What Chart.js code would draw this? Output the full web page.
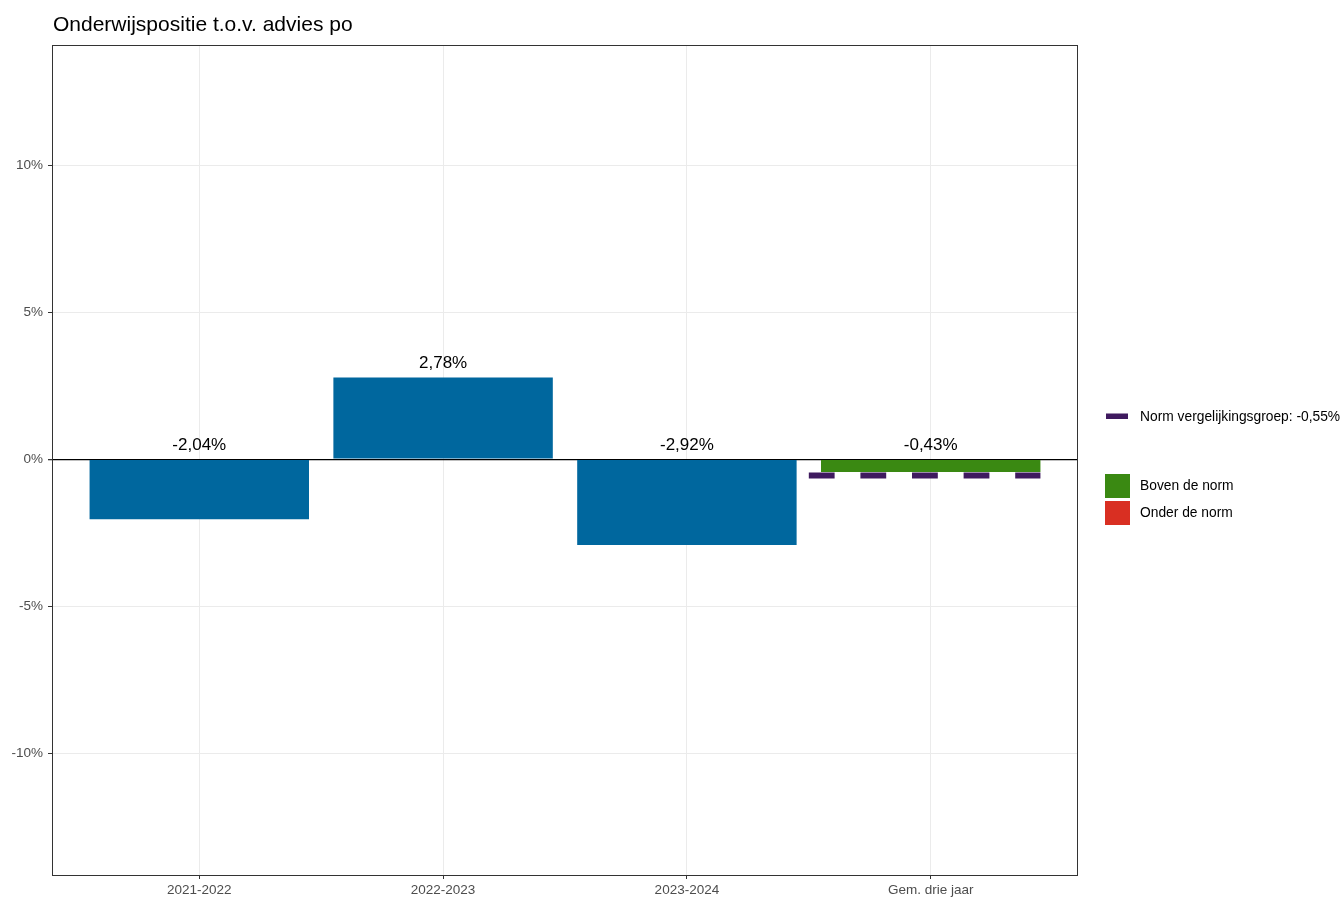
<!DOCTYPE html>
<html>
<head>
<meta charset="utf-8">
<title>Onderwijspositie t.o.v. advies po</title>
<script src="https://cdn.jsdelivr.net/npm/chart.js@4/dist/chart.umd.min.js"></script>
<style>
  html, body { margin: 0; padding: 0; background: #fff; }
  #wrap { width: 1344px; height: 897px; }
</style>
</head>
<body>
<div id="wrap"><canvas id="chart" width="1344" height="897"></canvas></div>
<script>
const titleText = 'Onderwijspositie t.o.v. advies po';
const categories = ['2021-2022', '2022-2023', '2023-2024', 'Gem. drie jaar'];
const values = [-2.04, 2.78, -2.92, -0.43];
const normValue = -0.55;
const normLabel = 'Norm vergelijkingsgroep: -0,55%';
const yTicks = [-10, -5, 0, 5, 10];
const legendLabels = ['Boven de norm', 'Onder de norm'];

const FONT = '"Liberation Sans", Arial, sans-serif';
const BLUE = '#00679E';
const GREEN = '#3A8912';
const RED = '#D92F22';
const PURPLE = '#3F1A5F';

const fmt = (v) => `${v.toFixed(2).replace('.', ',')}%`;

// last bar is the average: coloured by comparison with the norm
const barColors = values.map((v, i) => {
  if (i < values.length - 1) return BLUE;
  return v >= normValue ? GREEN : RED;
});

const last = values.length - 1;
const barData = values.map((v, i) => ({ x: i, y: v }));
const normData = [{ x: last - 0.5, y: normValue }, { x: last + 0.45, y: normValue }];

const extrasPlugin = {
  id: 'extras',
  afterDatasetsDraw(chart) {
    const { ctx, chartArea, scales } = chart;
    const { x, y } = scales;
    ctx.save();

    // value labels
    ctx.fillStyle = '#000';
    ctx.font = `17px ${FONT}`;
    ctx.textAlign = 'center';
    ctx.textBaseline = 'middle';
    values.forEach((v, i) => {
      ctx.fillText(fmt(v), x.getPixelForValue(i), y.getPixelForValue(Math.max(v, 0)) - 14);
    });

    // panel border
    ctx.strokeStyle = '#333333';
    ctx.lineWidth = 1;
    ctx.strokeRect(chartArea.left - 0.5, chartArea.top + 0.5,
      chartArea.right - chartArea.left + 1, chartArea.bottom - chartArea.top);

    // title
    ctx.fillStyle = '#000';
    ctx.font = `21px ${FONT}`;
    ctx.textAlign = 'left';
    ctx.fillText(titleText, chartArea.left, 25);

    // legend
    const lx = chartArea.right + 28;
    ctx.font = `13.8px ${FONT}`;
    ctx.fillStyle = PURPLE;
    ctx.fillRect(lx + 1, 413.5, 22, 5.5);
    ctx.fillStyle = '#000';
    ctx.fillText(normLabel, lx + 35, 417);

    [GREEN, RED].forEach((c, i) => {
      const top = 474 + i * 27;
      ctx.fillStyle = c;
      ctx.fillRect(lx, top, 25, 24);
      ctx.fillStyle = '#000';
      ctx.fillText(legendLabels[i], lx + 35, top + 12.5);
    });
    ctx.restore();
  },
};

new Chart(document.getElementById('chart'), {
  type: 'bar',
  data: {
    datasets: [
      {
        type: 'line',
        data: normData,
        borderColor: PURPLE,
        borderWidth: 6,
        borderDash: [25.8, 25.8],
        borderCapStyle: 'butt',
        pointRadius: 0,
        order: 0,
      },
      {
        type: 'bar',
        data: barData,
        backgroundColor: barColors,
        barPercentage: 0.9,
        categoryPercentage: 1.0,
        order: 1,
      },
    ],
  },
  options: {
    responsive: false,
    devicePixelRatio: 1,
    animation: false,
    layout: { padding: { top: 45, right: 267, left: 0, bottom: 0 } },
    plugins: {
      legend: { display: false },
      title: { display: false },
      tooltip: { enabled: false },
    },
    scales: {
      x: {
        type: 'linear',
        min: -0.6,
        max: last + 0.6,
        offset: false,
        afterBuildTicks: (scale) => {
          scale.ticks = categories.map((c, i) => ({ value: i }));
        },
        afterFit: (scale) => { scale.height = 22; },
        ticks: {
          callback: (v) => categories[v],
          color: '#4D4D4D',
          font: { family: FONT, size: 13.5 },
          padding: 3,
          maxRotation: 0,
          autoSkip: false,
        },
        grid: { offset: false, color: '#EBEBEB', tickColor: '#333333', tickLength: 4, lineWidth: 1 },
        border: { display: false },
      },
      y: {
        min: -14.15,
        max: 14.1,
        afterBuildTicks: (scale) => {
          scale.ticks = yTicks.map((v) => ({ value: v }));
        },
        afterFit: (scale) => { scale.width = 53; },
        ticks: {
          callback: (v) => `${v}%`,
          color: '#4D4D4D',
          font: { family: FONT, size: 13.5 },
          padding: 5,
        },
        grid: {
          color: (c) => (c.tick && c.tick.value === 0 ? '#000000' : '#EBEBEB'),
          tickColor: '#333333',
          tickLength: 5,
          lineWidth: (c) => (c.tick && c.tick.value === 0 ? 1.3 : 1),
        },
        border: { display: false },
      },
    },
  },
  plugins: [extrasPlugin],
});
</script>
</body>
</html>
